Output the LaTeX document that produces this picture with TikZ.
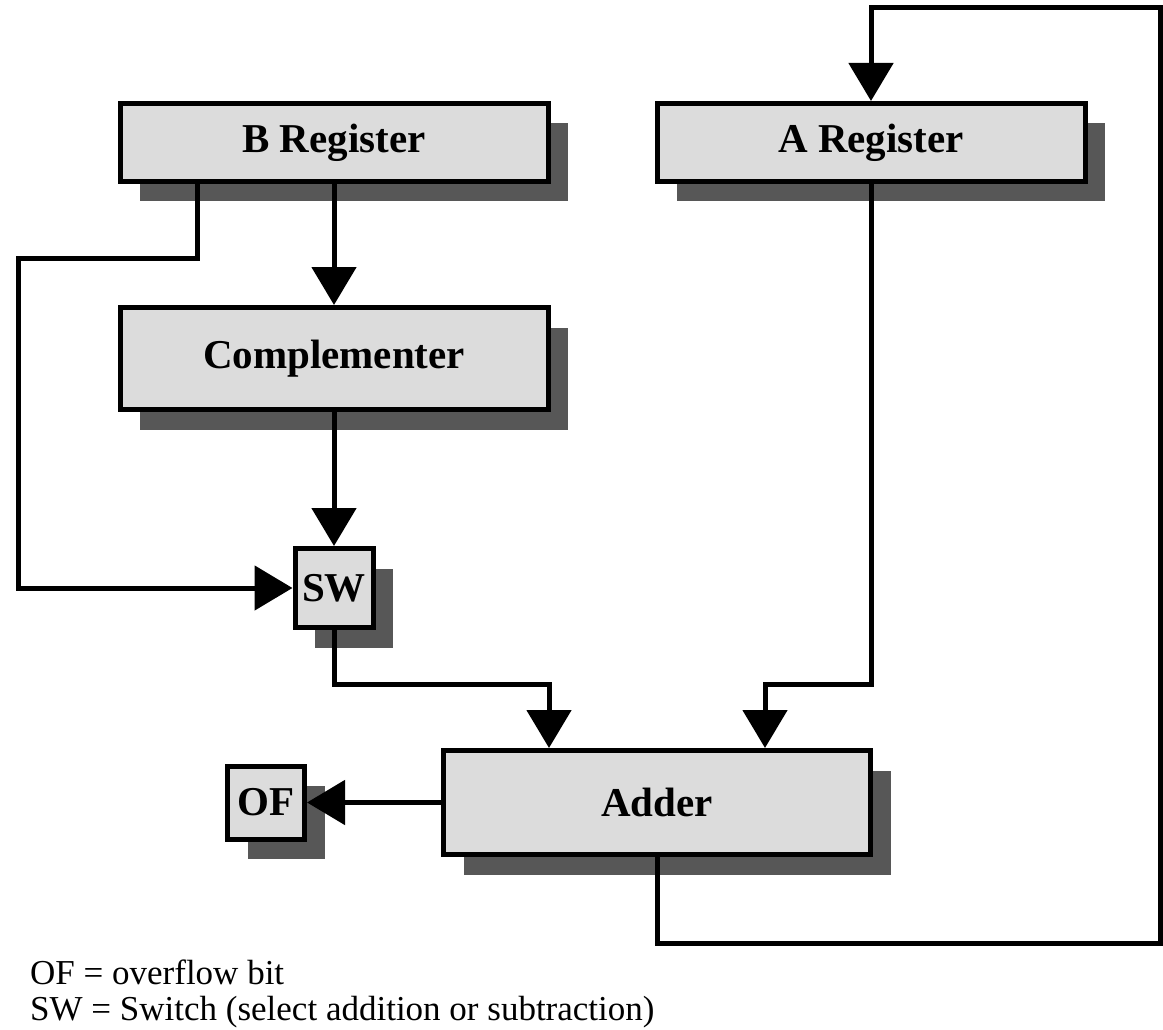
\documentclass[tikz,border=0pt]{standalone}
\usepackage{fontspec}
\setmainfont{Liberation Serif}
\usetikzlibrary{arrows.meta,shadows,calc}
\definecolor{boxfill}{HTML}{DCDCDC}
\definecolor{boxshade}{HTML}{575757}
\tikzset{
  blk/.style={draw=black, line width=5pt, fill=boxfill, inner sep=0pt,
    font=\fontsize{41}{48}\selectfont\bfseries,
    drop shadow={shadow xshift=20pt, shadow yshift=-20pt, fill=boxshade, opacity=1}},
  arr/.style={line width=5pt, -{Triangle[width=44pt,length=38pt]}},
  legend/.style={anchor=base west, inner sep=0pt, font=\fontsize{35}{40}\selectfont}
}
\begin{document}
\begin{tikzpicture}[x=1pt, y=-1pt]
  \useasboundingbox[fill=white] (0,0) rectangle (1163,1030);

  % blocks
  \node[blk, minimum width=428pt, minimum height=78pt]  (breg)  at (334,142.5) {B Register};
  \node[blk, minimum width=428pt, minimum height=78pt]  (areg)  at (871,142.5) {A Register};
  \node[blk, minimum width=428pt, minimum height=102pt] (comp)  at (334,358.5) {Complementer};
  \node[blk, minimum width=78pt,  minimum height=79pt]  (sw)    at (334,588)   {SW};
  \node[blk, minimum width=427pt, minimum height=104pt] (adder) at (657,802.5) {Adder};
  \node[blk, minimum width=77pt,  minimum height=73pt]  (of)    at (266,802.5) {OF};

  % tap points on block edges
  \coordinate (btap) at ($(breg.south west)!0.185!(breg.south east)$);
  \coordinate (ain1) at ($(adder.north west)!0.25!(adder.north east)$);
  \coordinate (ain2) at ($(adder.north west)!0.75!(adder.north east)$);

  % connectors
  \draw[arr] (breg.south) -- (comp.north);
  \draw[arr] (comp.south) -- (sw.north);
  \draw[arr] (btap) |- (18,258) |- (sw.west);
  \draw[arr] (sw.south) |- ($(ain1)+(0,-64)$) -- (ain1);
  \draw[arr] (areg.south) |- ($(ain2)+(0,-64)$) -- (ain2);
  \draw[arr] (adder.west) -- (of.east);
  \draw[arr] (adder.south) |- (1160,943) -- (1160,8) -| (areg.north);

  % legend
  \node[legend] (l1) at (30,984)  {OF = overflow bit};
  \node[legend] (l2) at (30,1020) {SW = Switch (select addition or subtraction)};
\end{tikzpicture}
\end{document}
